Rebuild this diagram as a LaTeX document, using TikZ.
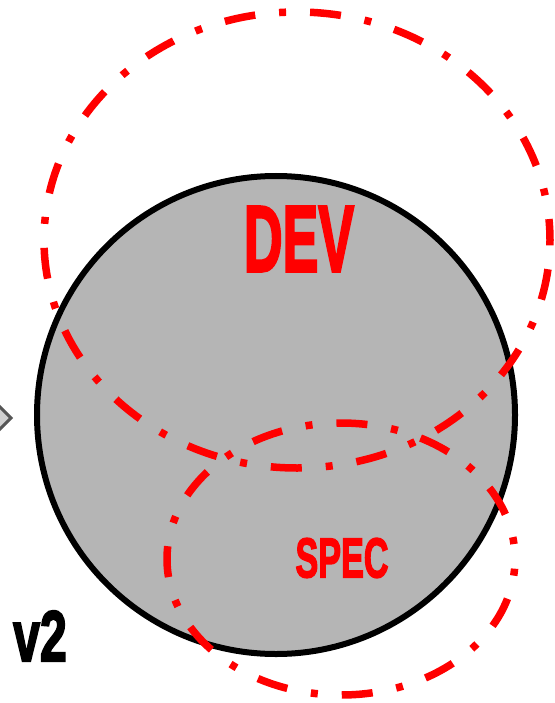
\documentclass[tikz,border=0pt]{standalone}
\usepackage{fontspec}
\setmainfont{Liberation Sans}
\newfontfamily\heavyfont{Liberation Sans Bold}[FakeBold=3]
\usepackage{graphicx}
\definecolor{fillgray}{HTML}{B5B5B5}
\definecolor{chevfill}{HTML}{D0D0D0}
\definecolor{chevline}{HTML}{555555}
\tikzset{
  redring/.style={draw=red, line width=7.5pt, line cap=butt,
    dash pattern=on 31pt off 24pt on 7pt off 24pt},
  lbl/.style={inner sep=0pt, text=red, font=\heavyfont}
}
\begin{document}
\begin{tikzpicture}[x=1pt,y=1pt]
\useasboundingbox (0,0) rectangle (554,-703);
% left chevron marker (partly cut)
\path[draw=chevline, fill=chevfill, line width=3pt] (0,-418) ++(-11,0) -- ++(11,11) -- ++(11,-11) -- ++(-11,-11) -- cycle;
% main circle
\node[circle, draw=black, line width=6pt, fill=fillgray, minimum size=478pt, inner sep=0pt] (dev) at (276,-415) {};
% red dash-dot ellipses
\draw[redring, dash phase=10pt] (297,-240) ellipse [x radius=253, y radius=228];
\draw[redring, dash phase=40pt] (341,-559) ellipse [x radius=174, y radius=136];
% labels
\node[lbl] (devl) at (299,-239) {\scalebox{0.57}[1]{\fontsize{94}{94}\selectfont DEV}};
\node[lbl] (spec) at (342,-558) {\scalebox{0.61}[1]{\fontsize{56}{56}\selectfont SPEC}};
\node[inner sep=0pt, font=\heavyfont] (ver) at (40,-636) {\scalebox{0.67}[1]{\fontsize{72}{72}\selectfont v2}};
\end{tikzpicture}
\end{document}
